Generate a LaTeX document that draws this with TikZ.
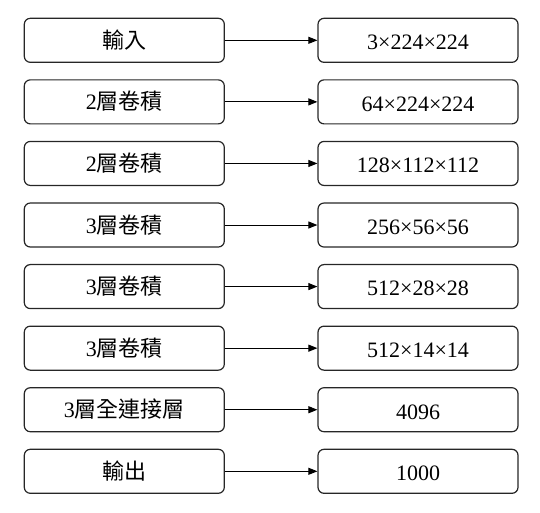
\documentclass[tikz,border=0pt]{standalone}
\usepackage{fontspec}
\setmainfont{Liberation Serif}
\newfontfamily\cjk{Noto Sans CJK TC}
\usetikzlibrary{arrows.meta}
\begin{document}
\begin{tikzpicture}[x=1pt,y=-1pt,
  box/.style={draw=black!85,line width=1.2pt,rounded corners=6pt,minimum width=200pt,minimum height=44pt,inner sep=0pt,font=\fontsize{22}{26}\selectfont},
  arr/.style={draw=black,line width=1pt,-{Triangle[length=9pt,width=7pt]}}]
\useasboundingbox (0,0) rectangle (540,512);
\foreach \i/\l/\r in {
  1/{\cjk 輸入}/{3×224×224},
  2/{2\cjk 層卷積}/{64×224×224},
  3/{2\cjk 層卷積}/{128×112×112},
  4/{3\cjk 層卷積}/{256×56×56},
  5/{3\cjk 層卷積}/{512×28×28},
  6/{3\cjk 層卷積}/{512×14×14},
  7/{3\cjk 層全連接層}/{4096},
  8/{\cjk 輸出}/{1000}} {
  \node[box,text height=18pt,text depth=2pt] (l\i) at (124.3,{40.3+(\i-1)*61.57}) {\l};
  \node[box,text height=18.6pt,text depth=0pt] (r\i) at (418,{40.3+(\i-1)*61.57}) {\r};
  \draw[arr] (l\i) -- (r\i);
}
\end{tikzpicture}
\end{document}
